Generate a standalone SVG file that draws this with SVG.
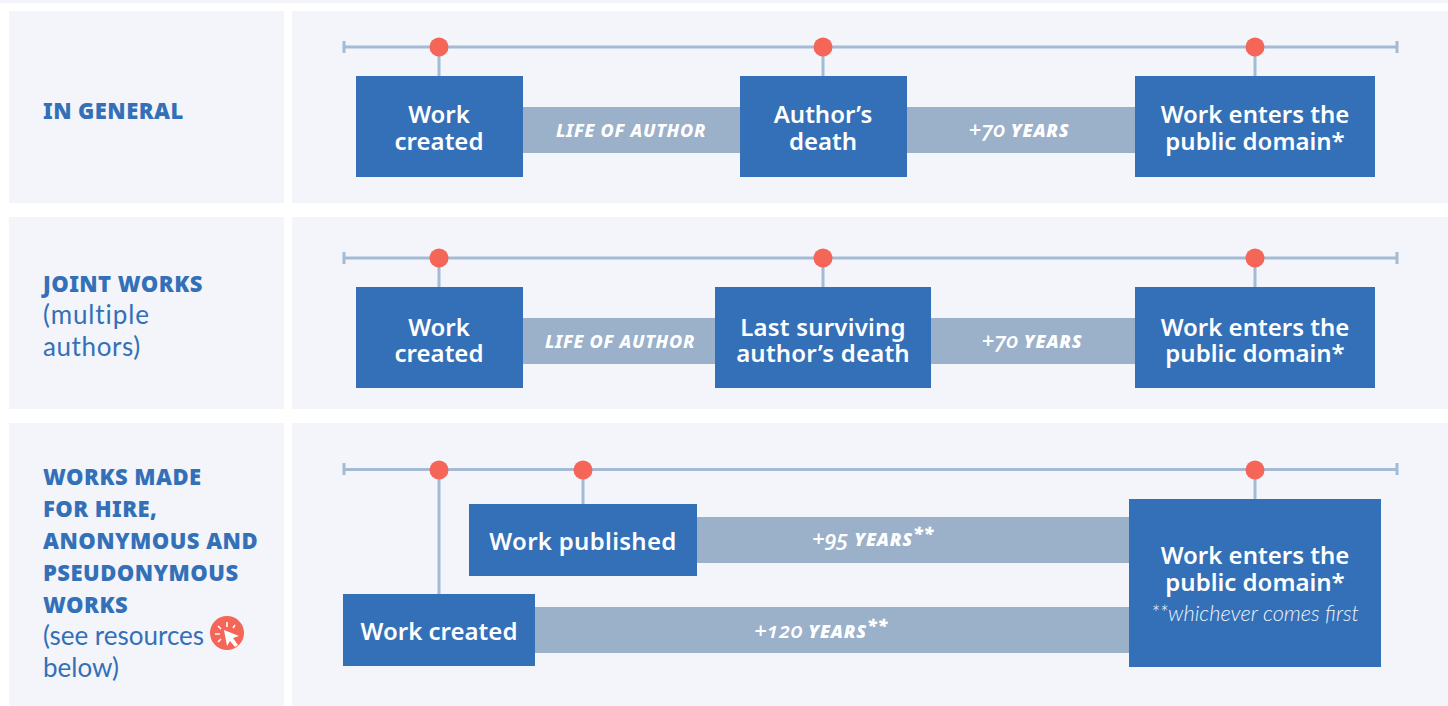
<svg xmlns="http://www.w3.org/2000/svg" width="1448" height="706" viewBox="0 0 1448 706">
<style>
.p{fill:#f3f5fa}
.b{fill:#3370b7}
.s{fill:#9bb0c9}
.l{stroke:#a3bbd4;stroke-width:3;fill:none}
.d{fill:#f56558}
text{font-family:"Noto Sans","Liberation Sans",sans-serif}
.t{fill:#fff;font-size:24px;font-weight:600;text-anchor:middle}
.y{fill:#fff;font-size:18px;font-weight:800;font-style:italic;text-anchor:middle;letter-spacing:.7px}
.o{font-family:"Open Sans","Noto Sans",sans-serif;font-variant-numeric:oldstyle-nums;letter-spacing:.8px}
.g{font-size:22px;font-weight:600;letter-spacing:.3px}
.h{fill:#3370b7;font-size:22px;font-weight:900;font-family:"Noto Sans",Lato,sans-serif;letter-spacing:.45px}
.n{fill:#3370b7;font-size:26px;font-family:Lato,"Noto Sans",sans-serif}
.w{fill:#eef3fa;font-size:21.800px;font-style:italic;font-weight:300;text-anchor:middle;font-family:Lato,"Noto Sans",sans-serif}
</style>
<rect class="p" x="0" y="0" width="1448" height="3"/>
<g id="panels">
<rect class="p" x="9" y="11" width="275" height="192"/><rect class="p" x="292" y="11" width="1156" height="192"/>
<rect class="p" x="9" y="217" width="275" height="192"/><rect class="p" x="292" y="217" width="1156" height="192"/>
<rect class="p" x="9" y="423" width="275" height="283"/><rect class="p" x="292" y="423" width="1156" height="283"/>
</g>
<g id="connectors">
<path class="l" d="M344 47H1397M344 41V53M1397 41V53M439 47V76M823 47V76M1255 47V76"/>
<path class="l" d="M344 258H1397M344 252V264M1397 252V264M439 258V287M823 258V287M1255 258V287"/>
<path class="l" d="M344 469.500H1397M344 463V475M1397 463V475M439 469V594M583 469V504M1255 469V499"/>
<g class="d"><circle cx="439" cy="47" r="9.5"/><circle cx="823" cy="47" r="9.5"/><circle cx="1255" cy="47" r="9.5"/>
<circle cx="439" cy="258" r="9.5"/><circle cx="823" cy="258" r="9.500"/><circle cx="1255" cy="258" r="9.5"/>
<circle cx="439" cy="470" r="9.5"/><circle cx="583" cy="470" r="9.5"/><circle cx="1255" cy="470" r="9.5"/></g>
</g>
<g id="row-general-label"><text class="h" x="43" y="119">IN GENERAL</text></g>
<g id="row-joint-label"><text class="h" x="43" y="292">JOINT WORKS</text><text class="n" x="43" y="324" letter-spacing=".9">(multiple</text><text class="n" x="43" y="356" letter-spacing=".6">authors)</text></g>
<g id="row-hire-label"><text class="h" x="43" y="485">WORKS MADE</text><text class="h" x="43" y="517">FOR HIRE,</text><text class="h" x="43" y="549">ANONYMOUS AND</text><text class="h" x="43" y="581">PSEUDONYMOUS</text><text class="h" x="43" y="613">WORKS</text><text class="n" x="43" y="645">(see resources</text><text class="n" x="43" y="677">below)</text></g>
<g id="resources-icon"><circle class="d" cx="227" cy="633" r="17"/><path fill="#fff" d="M224 630L239 636L233 638L238 645L235 647L230 641L227 646Z"/><path stroke="#fff" stroke-width="1.6" fill="none" d="M227 622V627M218 626L221 629M215 634H220M218 642L221 639M235 625L233 628"/></g>
<g id="bar1a"><rect class="s" x="523" y="107" width="217" height="46"/><text class="y" x="631" y="137">LIFE OF AUTHOR</text></g>
<g id="bar1b"><rect class="s" x="907" y="107" width="228" height="46"/><text class="y o" x="1019" y="137"><tspan class="g">+70</tspan> YEARS</text></g>
<g id="bar2a"><rect class="s" x="523" y="318" width="192" height="46"/><text class="y" x="620" y="348">LIFE OF AUTHOR</text></g>
<g id="bar2b"><rect class="s" x="931" y="318" width="204" height="46"/><text class="y o" x="1032" y="348"><tspan class="g">+70</tspan> YEARS</text></g>
<g id="bar3a"><rect class="s" x="697" y="517" width="432" height="46"/><text class="y o" x="873" y="546"><tspan class="g">+95</tspan> YEARS<tspan dy="-6">**</tspan></text></g>
<g id="bar3b"><rect class="s" x="535" y="607" width="594" height="46"/><text class="y o" x="821" y="638"><tspan class="g">+120</tspan> YEARS<tspan dy="-6">**</tspan></text></g>
<g id="n1"><rect class="b" x="356" y="76" width="167" height="101"/><text class="t" x="439" y="123">Work</text><text class="t" x="439" y="150">created</text></g>
<g id="n2"><rect class="b" x="740" y="76" width="167" height="101"/><text class="t" x="823" y="123">Author’s</text><text class="t" x="823" y="150">death</text></g>
<g id="n3"><rect class="b" x="1135" y="76" width="240" height="101"/><text class="t" x="1255" y="123">Work enters the</text><text class="t" x="1255" y="150">public domain*</text></g>
<g id="n4"><rect class="b" x="356" y="287" width="167" height="101"/><text class="t" x="439" y="336">Work</text><text class="t" x="439" y="362">created</text></g>
<g id="n5"><rect class="b" x="715" y="287" width="216" height="101"/><text class="t" x="823" y="336" letter-spacing=".2">Last surviving</text><text class="t" x="823" y="362" letter-spacing=".2">author’s death</text></g>
<g id="n6"><rect class="b" x="1135" y="287" width="240" height="101"/><text class="t" x="1255" y="336">Work enters the</text><text class="t" x="1255" y="362">public domain*</text></g>
<g id="n7"><rect class="b" x="469" y="504" width="228" height="72"/><text class="t" x="583" y="550" letter-spacing=".3">Work published</text></g>
<g id="n8"><rect class="b" x="343" y="594" width="192" height="72"/><text class="t" x="439" y="640">Work created</text></g>
<g id="n9"><rect class="b" x="1129" y="499" width="252" height="168"/><text class="t" x="1255" y="564">Work enters the</text><text class="t" x="1255" y="591">public domain*</text><text class="w" x="1255" y="621">**whichever comes first</text></g>
</svg>
